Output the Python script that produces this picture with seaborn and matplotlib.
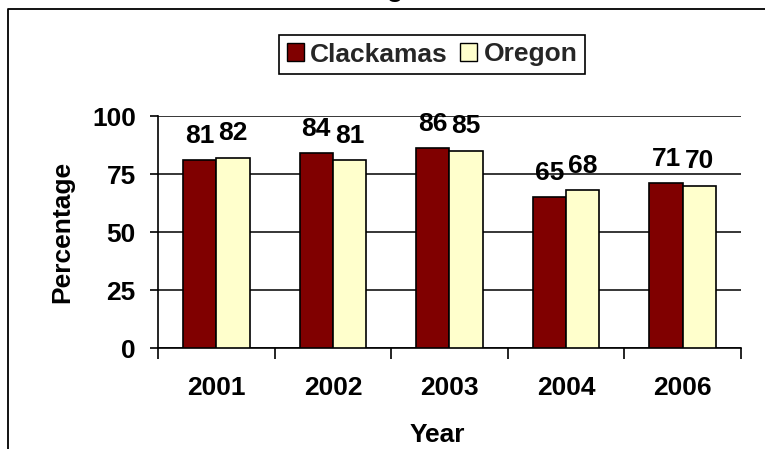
import matplotlib
matplotlib.use("Agg")
import matplotlib.pyplot as plt
import numpy as np
import pandas as pd
import seaborn as sns
from matplotlib.lines import Line2D
from matplotlib.patches import Patch

# Data
years = ["2001", "2002", "2003", "2004", "2006"]
clackamas = [81, 84, 86, 65, 71]
oregon = [82, 81, 85, 68, 70]
series_names = ["Clackamas", "Oregon"]
series_colors = ["#800000", "#FFFFCC"]
y_ticks = [0, 25, 50, 75, 100]

df = pd.DataFrame({
    "Year": years * 2,
    "Percentage": clackamas + oregon,
    "Area": [series_names[0]] * len(years) + [series_names[1]] * len(years),
})

sns.set_theme(style="white")
plt.rcParams["font.family"] = ["Liberation Sans", "DejaVu Sans"]
plt.rcParams["font.weight"] = "bold"

FS = 19
W, H = 765, 449
fig = plt.figure(figsize=(W / 100, H / 100), dpi=100)
fig.patch.set_facecolor("white")

# plot area in pixel terms: x 158..741, y 116..348
ax = fig.add_axes([158 / W, 1 - 348 / H, (741 - 158) / W, (348 - 116) / H])

sns.barplot(
    data=df, x="Year", y="Percentage", hue="Area",
    palette=series_colors, width=0.57, saturation=1,
    edgecolor="black", linewidth=1.2, ax=ax, legend=False, zorder=3,
)

for cont in ax.containers:
    ax.bar_label(cont, padding=9, fontsize=FS, fontweight="bold", color="black")

ax.set_xlim(-0.5, len(years) - 0.5)
ax.set_ylim(0, 100)
ax.set_yticks(y_ticks)
ax.set_xticks(range(len(years)))
ax.set_xticklabels(years)
ax.set_xticks(np.arange(-0.5, len(years), 1), minor=True)

ax.yaxis.grid(True, color="black", linewidth=1.1)
ax.xaxis.grid(False)
ax.set_axisbelow(True)

for side in ["top", "right"]:
    ax.spines[side].set_visible(False)
for side in ["left", "bottom"]:
    ax.spines[side].set_color("black")
    ax.spines[side].set_linewidth(1.2)

ax.tick_params(axis="x", which="major", bottom=True, length=0, pad=20,
               labelsize=FS, labelcolor="black")
ax.tick_params(axis="x", which="minor", bottom=True, length=8, width=1.2,
               color="black", direction="out")
ax.tick_params(axis="y", which="major", left=True, length=6, width=1.2,
               color="black", direction="out", pad=10, labelsize=FS,
               labelcolor="black")
for lbl in ax.get_xticklabels() + ax.get_yticklabels():
    lbl.set_fontweight("bold")

ax.set_xlabel("")
ax.set_ylabel("")
fig.text(62 / W, 1 - 232 / H, "Percentage", rotation=90, ha="center",
         va="center", fontsize=FS, fontweight="bold", color="black")
fig.text(437 / W, 1 - 435 / H, "Year", ha="center", va="center",
         fontsize=FS, fontweight="bold", color="black")

handles = [Patch(facecolor=c, edgecolor="black", linewidth=1.0) for c in series_colors]
leg = fig.legend(
    handles, series_names, loc="center",
    bbox_to_anchor=(432 / W, 1 - 54.5 / H), ncol=2, frameon=True,
    fancybox=False, edgecolor="black", framealpha=1,
    handlelength=0.65, handleheight=0.65, handletextpad=0.25,
    columnspacing=0.45, borderpad=0.28, borderaxespad=0,
    prop={"weight": "bold", "size": FS},
)
leg.get_frame().set_linewidth(1.2)

# outer chart frame (left and top edges)
fig.add_artist(Line2D([8 / W, 8 / W, 1.0], [0, 1 - 9 / H, 1 - 9 / H],
                      transform=fig.transFigure, color="black", linewidth=1.3))
# descender of the page heading running above the frame
fig.text(395 / W, 1 + 3 / H, "g", ha="center", va="baseline",
         fontsize=FS, fontweight="bold", color="black")

fig.savefig("out.png", dpi=100, facecolor="white")
